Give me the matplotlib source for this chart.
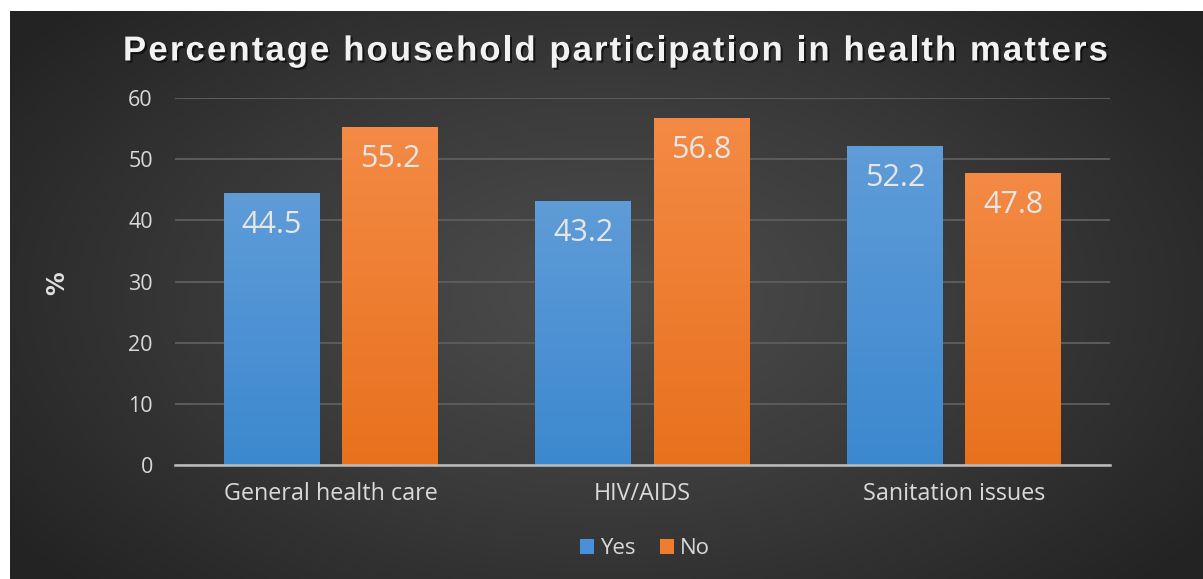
import numpy as np
import matplotlib
matplotlib.use("Agg")
import matplotlib.pyplot as plt
import matplotlib.patheffects as pe
from matplotlib.colors import LinearSegmentedColormap

categories = ["General health care", "HIV/AIDS", "Sanitation issues"]
yes_vals = [44.5, 43.2, 52.2]
no_vals = [55.2, 56.8, 47.8]
series_names = ["Yes", "No"]
yticks = [0, 10, 20, 30, 40, 50, 60]
title = "Percentage household participation in health matters"

W, H = 1203, 579
fig = plt.figure(figsize=(W / 100, H / 100), dpi=100)
fig.patch.set_facecolor("white")

# background with radial gradient
bg = fig.add_axes([10 / W, 0, (W - 10) / W, (H - 11) / H])
bg.set_axis_off()
ny, nx = 300, 600
yy, xx = np.mgrid[0:ny, 0:nx]
dx = (xx / nx - 0.5) / 0.62
dy = (yy / ny - 0.5) / 0.75
r = np.clip(np.sqrt(dx ** 2 + dy ** 2), 0, 1)
cmap_bg = LinearSegmentedColormap.from_list("bg", ["#4d4d4d", "#3a3a3a", "#232323"])
bg.imshow(r, cmap=cmap_bg, aspect="auto", extent=[0, 1, 0, 1], vmin=0, vmax=1)
bg.set_xlim(0, 1)
bg.set_ylim(0, 1)

ax = fig.add_axes([175 / W, (H - 465) / H, (1110 - 175) / W, (465 - 98) / H])
ax.patch.set_alpha(0)
x = np.arange(len(categories))
bw = 0.308
off = 0.19

def grad_bars(bars, top, bottom):
    cm = LinearSegmentedColormap.from_list("g", [bottom, top])
    grad = np.linspace(0, 1, 256).reshape(-1, 1)
    for b in bars:
        bx, by = b.get_x(), b.get_y()
        w, h = b.get_width(), b.get_height()
        im = ax.imshow(grad, cmap=cm, aspect="auto", origin="lower",
                       extent=[bx, bx + w, by, by + h], zorder=3)
        im.set_clip_path(b)

b1 = ax.bar(x - off, yes_vals, bw, color="#4a90d9", zorder=3, label=series_names[0])
b2 = ax.bar(x + off, no_vals, bw, color="#ee7d30", zorder=3, label=series_names[1])
grad_bars(b1, "#5f9cd8", "#3c88cf")
grad_bars(b2, "#f48a45", "#e8711d")

ax.set_xlim(-0.5, len(categories) - 0.5)
ax.set_ylim(0, 60)
ax.set_yticks(yticks)
ax.grid(axis="y", color="#5c5c5c", linewidth=1.4, zorder=0)
ax.set_axisbelow(True)
for s in ["top", "right", "left"]:
    ax.spines[s].set_visible(False)
ax.spines["bottom"].set_color("#bdbdbd")
ax.spines["bottom"].set_linewidth(1.8)
ax.spines["bottom"].set_zorder(4)
ax.tick_params(axis="both", length=0, colors="#d9d9d9")
ax.tick_params(axis="y", labelsize=15.5, pad=16)
ax.tick_params(axis="x", labelsize=16.8, pad=12)
ax.set_xticks(x)
ax.set_xticklabels(categories, fontfamily="Open Sans")
for t in ax.get_yticklabels():
    t.set_fontfamily("Open Sans")

for bars, vals in ((b1, yes_vals), (b2, no_vals)):
    for b, v in zip(bars, vals):
        ax.annotate(f"{v}", (b.get_x() + b.get_width() / 2, v), xytext=(0, -23),
                    textcoords="offset points", ha="center", va="center",
                    fontsize=22, color="#e6e6e6", fontfamily="Open Sans", zorder=5)

fig.text(57 / W, 1 - 283 / H, "%", rotation=90, ha="center", va="center",
         fontsize=17, fontweight="bold", color="#e0e0e0", fontfamily="DejaVu Sans")

# title with letter spacing
renderer = fig.canvas.get_renderer()
tkw = dict(fontsize=25, fontweight="bold", color="#f2f2f2",
           fontfamily="Liberation Sans", va="center", ha="left")

def measure(s):
    t = fig.text(0, 0, s, **tkw)
    w = t.get_window_extent(renderer).width
    t.remove()
    return w

xw = measure("xx")
widths = []
for ch in title:
    if ch == " ":
        widths.append(measure("x x") - xw)
    else:
        widths.append(measure(ch))
x_start, x_end = 123, 1108
spacing = (x_end - x_start - sum(widths)) / (len(title) - 1)
cx = x_start
shadow = [pe.withSimplePatchShadow(offset=(1.5, -1.5), shadow_rgbFace="black", alpha=0.6)]
for ch, w in zip(title, widths):
    if ch != " ":
        fig.text(cx / W, 1 - 51 / H, ch, path_effects=shadow, **tkw)
    cx += w + spacing

leg = fig.legend(handles=[b1, b2], labels=series_names, loc="center",
                 bbox_to_anchor=(645 / W, 1 - 549 / H), ncol=2, frameon=False,
                 handlelength=0.65, handleheight=0.65, handletextpad=0.25,
                 columnspacing=1.1, prop={"family": "Open Sans", "size": 16})
for t in leg.get_texts():
    t.set_color("#d9d9d9")

fig.savefig("out.png", dpi=100, facecolor="white")
